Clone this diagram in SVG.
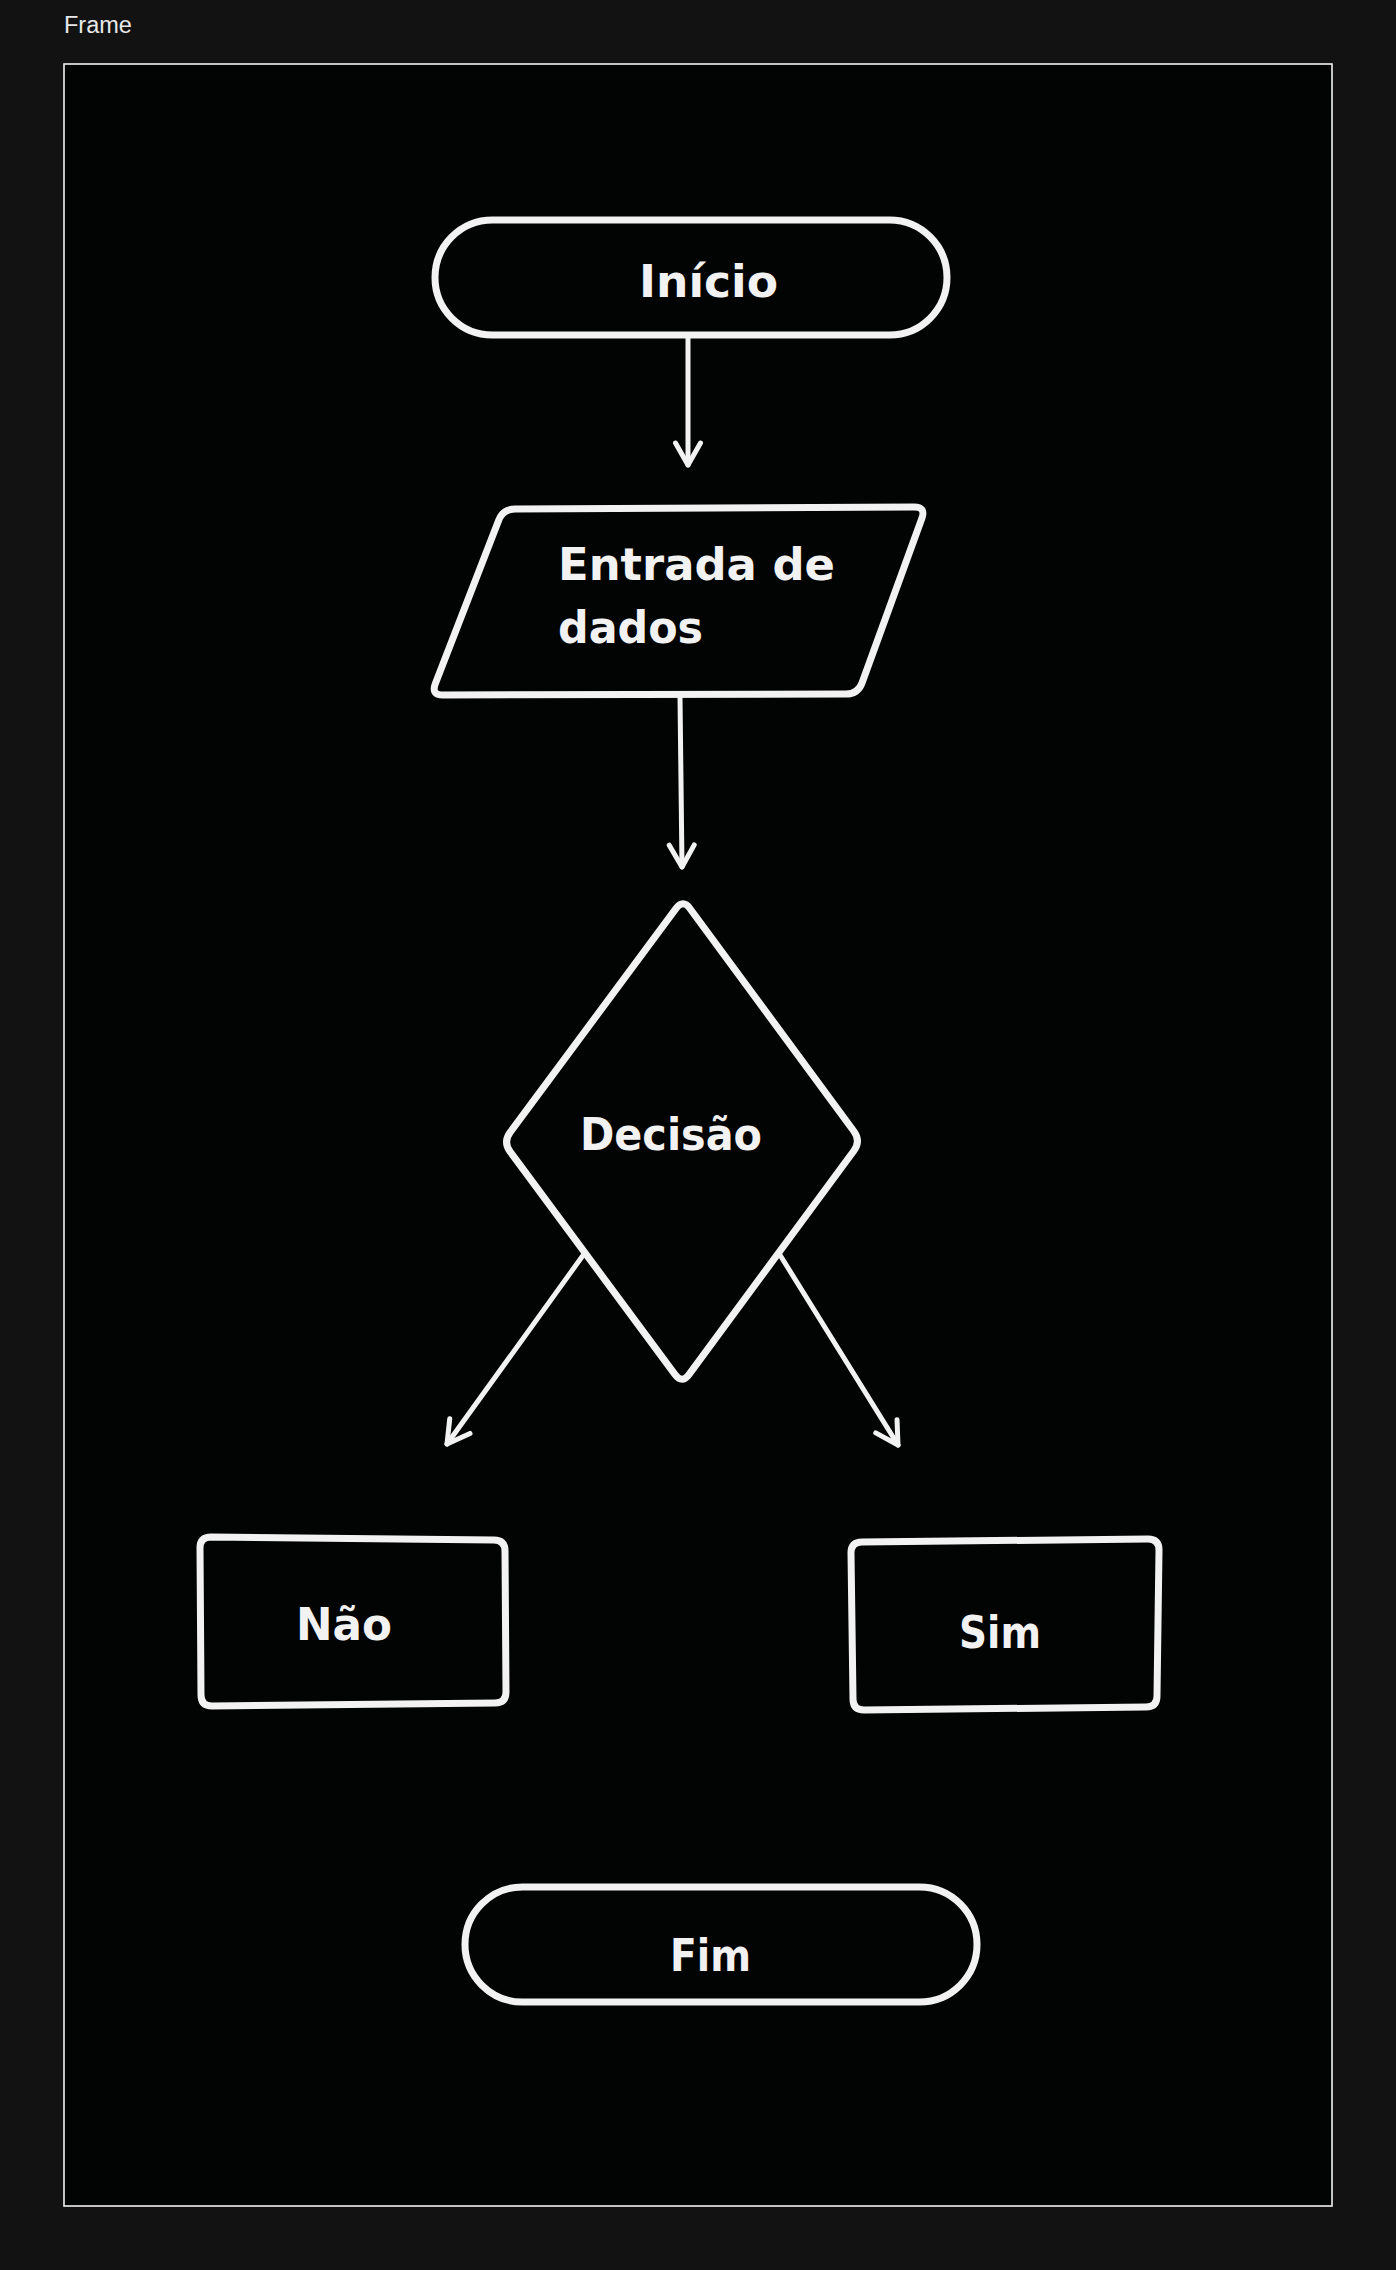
<svg xmlns="http://www.w3.org/2000/svg" width="1396" height="2270" viewBox="0 0 1396 2270">
  <style>
    .shape { fill: #020303; stroke: #f2f2f2; stroke-width: 7; stroke-linejoin: round; stroke-linecap: round; }
    .conn { fill: none; stroke: #f2f2f2; stroke-width: 5; stroke-linecap: round; stroke-linejoin: round; }
    .lbl { fill: #f2f2f2; font-family: "DejaVu Sans", "Noto Sans", sans-serif; font-weight: bold; font-size: 45px; }
    .frame-title { fill: #e8e8e8; font-family: "Liberation Sans", Arial, sans-serif; font-size: 23.5px; }
  </style>
  <defs>
    <marker id="arrow" markerUnits="userSpaceOnUse" markerWidth="40" markerHeight="40" refX="0" refY="0" orient="auto" overflow="visible" viewBox="-30 -20 40 40">
      <path d="M-22,-12.5 L0,0 L-22,12.5" fill="none" stroke="#f2f2f2" stroke-width="5" stroke-linecap="round" stroke-linejoin="round"/>
    </marker>
  </defs>
  <rect x="0" y="0" width="1396" height="2270" fill="#121212"/>
  <g id="frame">
    <text class="frame-title" x="64" y="33">Frame</text>
    <rect x="64" y="64" width="1268" height="2142" fill="#020303" stroke="#f2f2f2" stroke-width="1.6"/>
  </g>
  <g id="connectors">
    <path class="conn" d="M688,338 L688,465" marker-end="url(#arrow)"/>
    <path class="conn" d="M680,697 L682,867" marker-end="url(#arrow)"/>
    <path class="conn" d="M584,1254 L447,1444" marker-end="url(#arrow)"/>
    <path class="conn" d="M780,1255 L898,1445" marker-end="url(#arrow)"/>
  </g>
  <g id="inicio">
    <rect class="shape" x="435" y="220" width="512" height="115" rx="57.5" ry="57.5"/>
    <text class="lbl" x="639" y="297" textLength="139" lengthAdjust="spacingAndGlyphs">Início</text>
  </g>
  <g id="entrada">
    <path class="shape" d="M515,509 L914,507 Q926,507 921.9,518.3 L862.1,682.7 Q858,694 846,694 L443,695 Q431,695 435.3,683.8 L498.7,520.2 Q503,509 515,509 Z"/>
    <text class="lbl" x="558" y="580" textLength="277" lengthAdjust="spacingAndGlyphs">Entrada de</text>
    <text class="lbl" x="558" y="643" textLength="145" lengthAdjust="spacingAndGlyphs">dados</text>
  </g>
  <g id="decisao">
    <path class="shape" d="M690.1,908.7 L853.9,1131.3 Q861,1141 853.9,1150.7 L689.1,1374.3 Q682,1384 674.9,1374.4 L510.1,1151.6 Q503,1142 510.1,1132.4 L675.9,908.6 Q683,899 690.1,908.7 Z"/>
    <text class="lbl" x="580" y="1150" textLength="182" lengthAdjust="spacingAndGlyphs">Decisão</text>
  </g>
  <g id="nao">
    <path class="shape" d="M211,1537 L494,1540 Q505,1540 505,1551 L506,1692 Q506,1703 495,1703 L212,1706 Q201,1706 201,1695 L200,1548 Q200,1537 211,1537 Z"/>
    <text class="lbl" x="296" y="1640" textLength="96" lengthAdjust="spacingAndGlyphs">Não</text>
  </g>
  <g id="sim">
    <path class="shape" d="M862,1542 L1148,1539 Q1159,1539 1159,1550 L1157,1696 Q1157,1707 1146,1707 L864,1710 Q853,1710 853,1699 L851,1553 Q851,1542 862,1542 Z"/>
    <text class="lbl" x="959" y="1648" textLength="82" lengthAdjust="spacingAndGlyphs">Sim</text>
  </g>
  <g id="fim">
    <rect class="shape" x="465" y="1887" width="512" height="115" rx="57.5" ry="57.5"/>
    <text class="lbl" x="670" y="1971" textLength="81" lengthAdjust="spacingAndGlyphs">Fim</text>
  </g>
</svg>
